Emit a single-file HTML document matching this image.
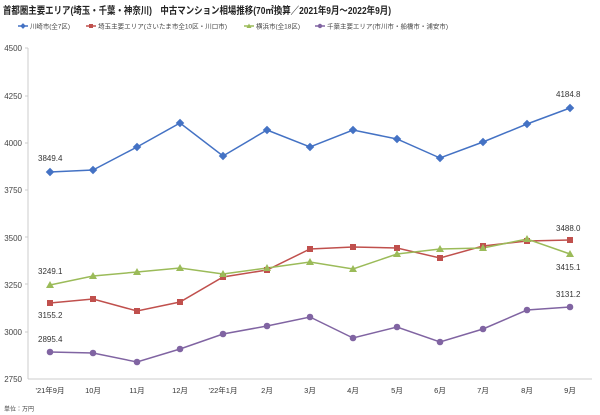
<!DOCTYPE html>
<html><head><meta charset="utf-8"><style>
body{margin:0;background:#fff;}
svg{display:block;font-family:"Liberation Sans","Noto Sans CJK JP",sans-serif;}
</style></head><body>
<svg width="600" height="415" viewBox="0 0 600 415">
<text x="3" y="14" font-size="10" font-weight="bold" fill="#222" textLength="388" lengthAdjust="spacingAndGlyphs">首都圏主要エリア(埼玉・千葉・神奈川)　中古マンション相場推移(70㎡換算／2021年9月〜2022年9月)</text>
<g font-size="6.5" fill="#444">
<line x1="18" y1="26" x2="28" y2="26" stroke="#4472C4" stroke-width="1.5"/><rect x="21" y="24" width="4" height="4" transform="rotate(45 23 26)" fill="#4472C4"/><text x="30" y="28.5" textLength="40" lengthAdjust="spacingAndGlyphs">川崎市(全7区)</text>
<line x1="86" y1="26" x2="96" y2="26" stroke="#C0504D" stroke-width="1.5"/><rect x="89" y="24" width="4" height="4" fill="#C0504D"/><text x="98" y="28.5" textLength="129" lengthAdjust="spacingAndGlyphs">埼玉主要エリア(さいたま市全10区・川口市)</text>
<line x1="244" y1="26" x2="254" y2="26" stroke="#9BBB59" stroke-width="1.5"/><polygon points="249,23.5 251.5,28 246.5,28" fill="#9BBB59"/><text x="256" y="28.5" textLength="44" lengthAdjust="spacingAndGlyphs">横浜市(全18区)</text>
<line x1="315" y1="26" x2="325" y2="26" stroke="#8064A2" stroke-width="1.5"/><circle cx="320" cy="26" r="2.2" fill="#8064A2"/><text x="327" y="28.5" textLength="121" lengthAdjust="spacingAndGlyphs">千葉主要エリア(市川市・船橋市・浦安市)</text>
</g>
<g font-size="8" fill="#444" text-anchor="end">
<text x="22" y="51">4500</text><text x="22" y="99">4250</text><text x="22" y="146">4000</text><text x="22" y="193">3750</text><text x="22" y="241">3500</text><text x="22" y="288">3250</text><text x="22" y="335">3000</text><text x="22" y="382">2750</text>
</g>
<line x1="28" y1="48" x2="28" y2="379" stroke="#ccc" stroke-width="1"/>
<line x1="28" y1="379" x2="592" y2="379" stroke="#ccc" stroke-width="1"/>
<g stroke="#ccc"><line x1="28" y1="48" x2="25" y2="48"/><line x1="28" y1="96" x2="25" y2="96"/><line x1="28" y1="143" x2="25" y2="143"/><line x1="28" y1="190" x2="25" y2="190"/><line x1="28" y1="237" x2="25" y2="237"/><line x1="28" y1="284" x2="25" y2="284"/><line x1="28" y1="332" x2="25" y2="332"/></g>
<g font-size="7.5" fill="#333" text-anchor="middle">
<text x="50" y="393">'21年9月</text><text x="93" y="393">10月</text><text x="137" y="393">11月</text><text x="180" y="393">12月</text><text x="223" y="393">'22年1月</text><text x="267" y="393">2月</text><text x="310" y="393">3月</text><text x="353" y="393">4月</text><text x="397" y="393">5月</text><text x="440" y="393">6月</text><text x="483" y="393">7月</text><text x="527" y="393">8月</text><text x="570" y="393">9月</text>
</g>
<text x="4" y="411" font-size="6" fill="#444">単位：万円</text>
<g fill="none" stroke-width="1.5">
<polyline stroke="#4472C4" points="50,172 93,170 137,147 180,123 223,156 267,130 310,147 353,130 397,139 440,158 483,142 527,124 570,108"/>
<polyline stroke="#C0504D" points="50,303 93,299 137,311 180,302 223,277 267,270 310,249 353,247 397,248 440,258 483,246 527,241 570,240"/>
<polyline stroke="#9BBB59" points="50,285 93,276 137,272 180,268 223,274 267,268 310,262 353,269 397,254 440,249 483,248 527,239 570,254"/>
<polyline stroke="#8064A2" points="50,352 93,353 137,362 180,349 223,334 267,326 310,317 353,338 397,327 440,342 483,329 527,310 570,307"/>
</g>
<g fill="#4472C4">
<g transform="translate(50,172) rotate(45)"><rect x="-3" y="-3" width="6" height="6"/></g><g transform="translate(93,170) rotate(45)"><rect x="-3" y="-3" width="6" height="6"/></g><g transform="translate(137,147) rotate(45)"><rect x="-3" y="-3" width="6" height="6"/></g><g transform="translate(180,123) rotate(45)"><rect x="-3" y="-3" width="6" height="6"/></g><g transform="translate(223,156) rotate(45)"><rect x="-3" y="-3" width="6" height="6"/></g><g transform="translate(267,130) rotate(45)"><rect x="-3" y="-3" width="6" height="6"/></g><g transform="translate(310,147) rotate(45)"><rect x="-3" y="-3" width="6" height="6"/></g><g transform="translate(353,130) rotate(45)"><rect x="-3" y="-3" width="6" height="6"/></g><g transform="translate(397,139) rotate(45)"><rect x="-3" y="-3" width="6" height="6"/></g><g transform="translate(440,158) rotate(45)"><rect x="-3" y="-3" width="6" height="6"/></g><g transform="translate(483,142) rotate(45)"><rect x="-3" y="-3" width="6" height="6"/></g><g transform="translate(527,124) rotate(45)"><rect x="-3" y="-3" width="6" height="6"/></g><g transform="translate(570,108) rotate(45)"><rect x="-3" y="-3" width="6" height="6"/></g>
</g>
<g fill="#C0504D">
<rect x="47" y="300" width="6" height="6"/><rect x="90" y="296" width="6" height="6"/><rect x="134" y="308" width="6" height="6"/><rect x="177" y="299" width="6" height="6"/><rect x="220" y="274" width="6" height="6"/><rect x="264" y="267" width="6" height="6"/><rect x="307" y="246" width="6" height="6"/><rect x="350" y="244" width="6" height="6"/><rect x="394" y="245" width="6" height="6"/><rect x="437" y="255" width="6" height="6"/><rect x="480" y="243" width="6" height="6"/><rect x="524" y="238" width="6" height="6"/><rect x="567" y="237" width="6" height="6"/>
</g>
<g fill="#9BBB59">
<polygon points="50,281 54,288 46,288"/><polygon points="93,272 97,279 89,279"/><polygon points="137,268 141,275 133,275"/><polygon points="180,264 184,271 176,271"/><polygon points="223,270 227,277 219,277"/><polygon points="267,264 271,271 263,271"/><polygon points="310,258 314,265 306,265"/><polygon points="353,265 357,272 349,272"/><polygon points="397,250 401,257 393,257"/><polygon points="440,245 444,252 436,252"/><polygon points="483,244 487,251 479,251"/><polygon points="527,235 531,242 523,242"/><polygon points="570,250 574,257 566,257"/>
</g>
<g fill="#8064A2">
<circle cx="50" cy="352" r="3.3"/><circle cx="93" cy="353" r="3.3"/><circle cx="137" cy="362" r="3.3"/><circle cx="180" cy="349" r="3.3"/><circle cx="223" cy="334" r="3.3"/><circle cx="267" cy="326" r="3.3"/><circle cx="310" cy="317" r="3.3"/><circle cx="353" cy="338" r="3.3"/><circle cx="397" cy="327" r="3.3"/><circle cx="440" cy="342" r="3.3"/><circle cx="483" cy="329" r="3.3"/><circle cx="527" cy="310" r="3.3"/><circle cx="570" cy="307" r="3.3"/>
</g>
<g font-size="8" fill="#333">
<text x="38" y="161">3849.4</text><text x="556" y="97">4184.8</text>
<text x="38" y="274">3249.1</text><text x="556" y="231">3488.0</text>
<text x="38" y="318">3155.2</text><text x="556" y="270">3415.1</text>
<text x="38" y="342">2895.4</text><text x="556" y="297">3131.2</text>
</g>
</svg>
</body></html>
